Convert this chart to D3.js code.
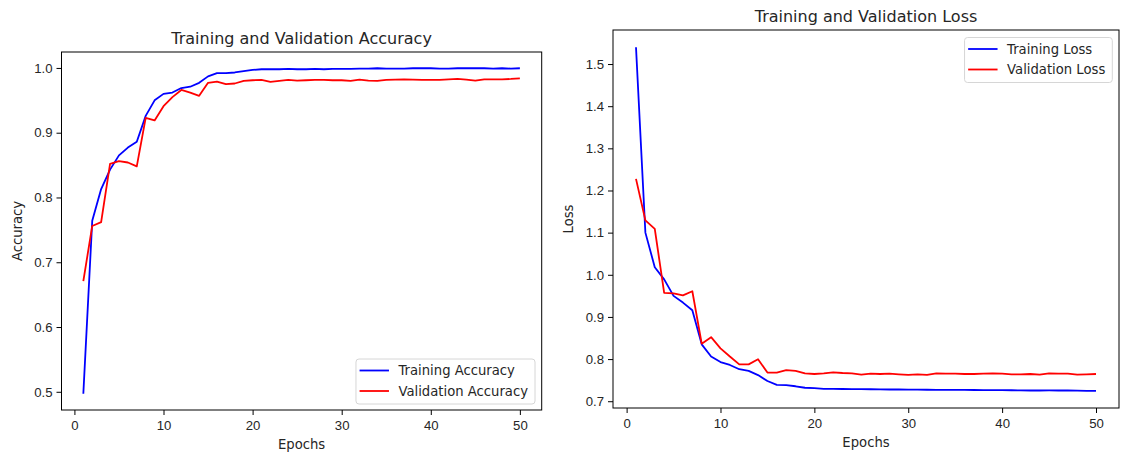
<!DOCTYPE html>
<html>
<head>
<meta charset="utf-8">
<script src="https://cdn.jsdelivr.net/npm/d3@7"></script>
<style>
body { margin: 0; background: #fff; }
svg { font-family: "DejaVu Sans", sans-serif; }
.tick text { font-size: 13.2px; fill: #262626; }
.tick line { stroke: #000; }
.title { font-size: 16px; fill: #262626; }
.label { font-size: 13.2px; fill: #262626; }
.legend text { font-size: 13.2px; fill: #262626; }
</style>
</head>
<body>
<svg width="1124" height="454"></svg>
<script>
const epochs = [1, 2, 3, 4, 5, 6, 7, 8, 9, 10, 11, 12, 13, 14, 15, 16, 17, 18, 19, 20,
	21, 22, 23, 24, 25, 26, 27, 28, 29, 30, 31, 32, 33, 34, 35, 36, 37, 38, 39, 40,
	41, 42, 43, 44, 45, 46, 47, 48, 49, 50]

const trainAcc = [0.497, 0.764, 0.813, 0.843, 0.865, 0.877, 0.886, 0.926, 0.950, 0.960,
	0.962, 0.969, 0.971, 0.977, 0.987, 0.992, 0.992, 0.993, 0.995, 0.997,
	0.998, 0.998, 0.998, 0.9985, 0.998, 0.998, 0.9985, 0.998, 0.9985, 0.9985,
	0.9985, 0.999, 0.999, 0.9995, 0.999, 0.999, 0.999, 0.9995, 0.9995, 0.9995,
	0.999, 0.999, 0.9995, 0.9995, 0.9995, 0.9995, 0.999, 0.9995, 0.999, 0.9995]

const valAcc = [0.671, 0.756, 0.762, 0.852, 0.856, 0.854, 0.848, 0.923, 0.919, 0.941,
	0.955, 0.966, 0.962, 0.957, 0.977, 0.979, 0.975, 0.976, 0.980, 0.981,
	0.9815, 0.9785, 0.980, 0.9815, 0.9805, 0.981, 0.9815, 0.9815, 0.981, 0.981,
	0.980, 0.982, 0.9805, 0.980, 0.9815, 0.982, 0.9825, 0.982, 0.9815, 0.9815,
	0.9815, 0.9825, 0.983, 0.982, 0.9805, 0.9825, 0.9825, 0.9825, 0.983, 0.984]

const trainLoss = [1.540, 1.100, 1.018, 0.989, 0.950, 0.934, 0.916, 0.835, 0.806, 0.793,
	0.786, 0.776, 0.772, 0.762, 0.748, 0.739, 0.738, 0.7355, 0.732, 0.731,
	0.7295, 0.7294, 0.729, 0.7288, 0.7286, 0.7284, 0.728, 0.7278, 0.7278, 0.7275,
	0.7276, 0.7272, 0.727, 0.727, 0.7268, 0.727, 0.7266, 0.7264, 0.7262, 0.7262,
	0.726, 0.7258, 0.7255, 0.7255, 0.7256, 0.7255, 0.7254, 0.725, 0.7248, 0.7247]

const valLoss = [1.2275, 1.129, 1.109, 0.957, 0.956, 0.951, 0.961, 0.8365, 0.852, 0.8255,
	0.806, 0.7875, 0.7875, 0.7995, 0.768, 0.768, 0.774, 0.772, 0.766, 0.7646,
	0.766, 0.7687, 0.767, 0.766, 0.763, 0.7654, 0.7646, 0.7654, 0.7638, 0.7623,
	0.7638, 0.7623, 0.766, 0.7654, 0.7654, 0.7646, 0.7646, 0.7654, 0.766, 0.7654,
	0.7638, 0.7638, 0.7646, 0.763, 0.766, 0.7654, 0.7654, 0.763, 0.7638, 0.7646]

const xTicks = [0, 10, 20, 30, 40, 50]
const accTicks = [0.5, 0.6, 0.7, 0.8, 0.9, 1.0]
const lossTicks = [0.7, 0.8, 0.9, 1.0, 1.1, 1.2, 1.3, 1.4, 1.5]

const svg = d3.select("svg")

// matplotlib style 5% margins
function padded(ext) {
	const p = (ext[1] - ext[0]) * 0.05
	return [ext[0] - p, ext[1] + p]
}

function drawPanel(cfg) {
	const { x0, x1, y0, y1 } = cfg.box
	const g = svg.append("g")

	const x = d3.scaleLinear().domain(padded(d3.extent(epochs))).range([x0, x1])
	const allVals = cfg.series.flatMap((s) => s.values)
	const y = d3.scaleLinear().domain(padded(d3.extent(allVals))).range([y1, y0])

	// axes
	const xAxis = g
		.append("g")
		.attr("transform", `translate(0, ${y1})`)
		.call(d3.axisBottom(x).tickValues(xTicks).tickSize(5).tickPadding(6).tickFormat(d3.format("d")))
	const yAxis = g
		.append("g")
		.attr("transform", `translate(${x0}, 0)`)
		.call(d3.axisLeft(y).tickValues(cfg.yTicks).tickSize(5).tickPadding(4).tickFormat(d3.format(".1f")))
	xAxis.select(".domain").remove()
	yAxis.select(".domain").remove()
	g.selectAll(".tick text").attr("font-family", null).attr("font-size", null)

	// lines
	const line = d3
		.line()
		.x((d, i) => x(epochs[i]))
		.y((d) => y(d))

	cfg.series.forEach((s) => {
		g.append("path")
			.datum(s.values)
			.attr("d", line)
			.attr("fill", "none")
			.attr("stroke", s.color)
			.attr("stroke-width", 1.8)
			.attr("stroke-linejoin", "round")
	})

	// frame
	g.append("rect")
		.attr("x", x0)
		.attr("y", y0)
		.attr("width", x1 - x0)
		.attr("height", y1 - y0)
		.attr("fill", "none")
		.attr("stroke", "#000")
		.attr("stroke-width", 1)

	// title and labels
	g.append("text")
		.attr("class", "title")
		.attr("x", (x0 + x1) / 2)
		.attr("y", y0 - 8.5)
		.attr("text-anchor", "middle")
		.text(cfg.title)

	g.append("text")
		.attr("class", "label")
		.attr("x", (x0 + x1) / 2)
		.attr("y", y1 + 39)
		.attr("text-anchor", "middle")
		.text("Epochs")

	g.append("text")
		.attr("class", "label")
		.attr("transform", `translate(${x0 - 40}, ${(y0 + y1) / 2}) rotate(-90)`)
		.attr("text-anchor", "middle")
		.text(cfg.ylabel)

	// legend
	const leg = g.append("g").attr("class", "legend")
	const box = leg.append("rect")
	const items = leg
		.selectAll("g.item")
		.data(cfg.series)
		.enter()
		.append("g")
		.attr("class", "item")
		.attr("transform", (d, i) => `translate(0, ${11.5 + i * 20.5})`)
	items
		.append("line")
		.attr("x1", 3.6)
		.attr("x2", 33)
		.attr("stroke", (d) => d.color)
		.attr("stroke-width", 1.8)
	items
		.append("text")
		.attr("x", 42.5)
		.attr("y", 4.7)
		.text((d) => d.name)

	let tw = 0
	items.selectAll("text").each(function () {
		tw = Math.max(tw, this.getComputedTextLength())
	})
	const bw = 42.5 + tw + 7
	const bh = 45
	box.attr("width", bw)
		.attr("height", bh)
		.attr("rx", 3)
		.attr("fill", "#fff")
		.attr("fill-opacity", 0.8)
		.attr("stroke", "#d6d6d6")
		.attr("stroke-width", 1)

	const lx = x1 - 6.7 - bw
	const ly = cfg.legend === "lower right" ? y1 - 6 - bh : y0 + 7.5
	leg.attr("transform", `translate(${lx}, ${ly})`)
}

drawPanel({
	box: { x0: 61.5, x1: 541.7, y0: 52, y1: 410 },
	title: "Training and Validation Accuracy",
	ylabel: "Accuracy",
	yTicks: accTicks,
	legend: "lower right",
	series: [
		{ name: "Training Accuracy", values: trainAcc, color: "blue" },
		{ name: "Validation Accuracy", values: valAcc, color: "red" },
	],
})

drawPanel({
	box: { x0: 613, x1: 1119, y0: 30, y1: 408 },
	title: "Training and Validation Loss",
	ylabel: "Loss",
	yTicks: lossTicks,
	legend: "upper right",
	series: [
		{ name: "Training Loss", values: trainLoss, color: "blue" },
		{ name: "Validation Loss", values: valLoss, color: "red" },
	],
})
</script>
</body>
</html>
